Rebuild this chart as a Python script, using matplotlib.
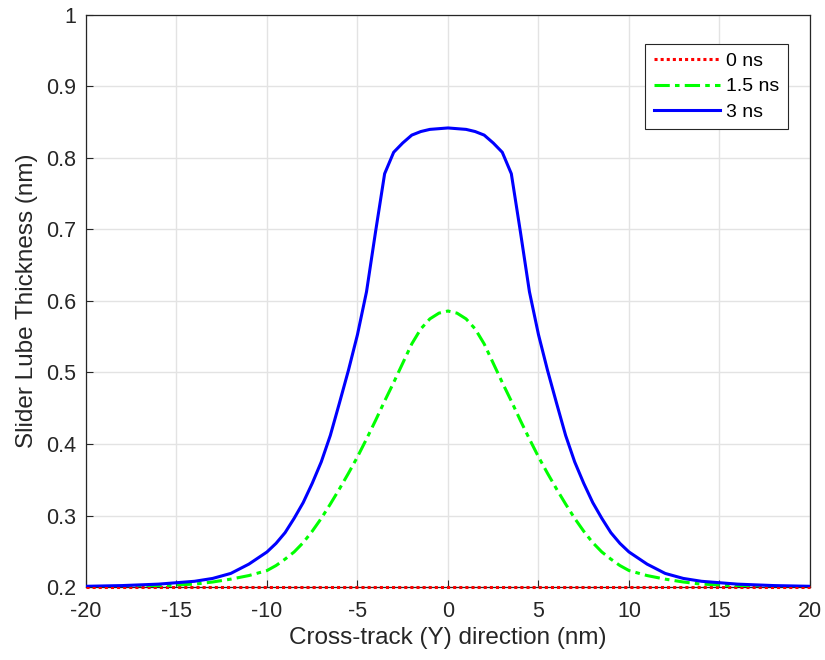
import matplotlib
matplotlib.use('Agg')
import matplotlib.pyplot as plt

plt.rcParams['font.family'] = ['Liberation Sans', 'DejaVu Sans']
plt.rcParams['axes.unicode_minus'] = False

# cross-track position (nm)
y_pos = [-20, -19, -18, -17, -16, -15, -14, -13, -12, -11,
         -10, -9.5, -9, -8.5, -8, -7.5, -7, -6.5, -6, -5.5,
         -5, -4.5, -4, -3.5, -3, -2.5, -2, -1.5, -1, -0.5,
         0, 0.5, 1, 1.5, 2, 2.5, 3, 3.5, 4, 4.5,
         5, 5.5, 6, 6.5, 7, 7.5, 8, 8.5, 9, 9.5,
         10, 11, 12, 13, 14, 15, 16, 17, 18, 19, 20]

# lube thickness (nm) at each time
lube_0ns = [0.2] * len(y_pos)
lube_15ns = [0.200, 0.200, 0.200, 0.200, 0.201, 0.203, 0.204, 0.207, 0.211, 0.216,
             0.223, 0.230, 0.239, 0.249, 0.262, 0.278, 0.296, 0.316, 0.337, 0.359,
             0.382, 0.407, 0.433, 0.460, 0.486, 0.513, 0.540, 0.561, 0.575, 0.583,
             0.586, 0.583, 0.575, 0.561, 0.540, 0.513, 0.486, 0.460, 0.433, 0.407,
             0.382, 0.359, 0.337, 0.316, 0.296, 0.278, 0.262, 0.249, 0.239, 0.230,
             0.223, 0.216, 0.211, 0.207, 0.204, 0.203, 0.201, 0.200, 0.200, 0.200, 0.200]
lube_3ns = [0.201, 0.2015, 0.202, 0.203, 0.204, 0.206, 0.208, 0.212, 0.219, 0.232,
            0.249, 0.261, 0.276, 0.296, 0.318, 0.345, 0.375, 0.412, 0.457, 0.503,
            0.553, 0.613, 0.697, 0.778, 0.808, 0.821, 0.832, 0.837, 0.840, 0.841,
            0.842, 0.841, 0.840, 0.837, 0.832, 0.821, 0.808, 0.778, 0.697, 0.613,
            0.553, 0.503, 0.457, 0.412, 0.375, 0.345, 0.318, 0.296, 0.276, 0.261,
            0.249, 0.232, 0.219, 0.212, 0.208, 0.206, 0.204, 0.203, 0.202, 0.2015, 0.201]

fig = plt.figure(figsize=(8.25, 6.6), dpi=100)
ax = fig.add_axes([0.1042, 0.1106, 0.8776, 0.8667])

ax.plot(y_pos, lube_0ns, color='#ff0000', linestyle=(0, (1, 1)), linewidth=2.2,
        label='0 ns', clip_on=False, zorder=3)
ax.plot(y_pos, lube_15ns, color='#00ff00', linestyle=(0, (5, 1.7, 1.5, 1.7)), linewidth=2.2,
        label='1.5 ns', zorder=3)
ax.plot(y_pos, lube_3ns, color='#0000ff', linestyle='-', linewidth=2.2,
        label='3 ns', zorder=3)

ax.set_xlim(-20, 20)
ax.set_ylim(0.2, 1)
ax.set_xticks(range(-20, 21, 5))
ax.set_yticks([0.2, 0.3, 0.4, 0.5, 0.6, 0.7, 0.8, 0.9, 1.0])
ax.set_yticklabels(['0.2', '0.3', '0.4', '0.5', '0.6', '0.7', '0.8', '0.9', '1'])

ax.grid(True, color='#e3e3e3', linewidth=1.0)
ax.set_axisbelow(True)
ax.tick_params(direction='in', length=5, width=0.8, colors='#262626', labelsize=15.5,
               top=False, right=False)
ax.tick_params(axis='x', pad=10)
ax.tick_params(axis='y', pad=7)
for s in ax.spines.values():
    s.set_color('#262626')
    s.set_linewidth(0.9)

ax.set_xlabel('Cross-track (Y) direction (nm)', fontsize=17.5, color='#262626', labelpad=4)
ax.set_ylabel('Slider Lube Thickness (nm)', fontsize=17.5, color='#262626', labelpad=6)

leg = ax.legend(loc='upper right', bbox_to_anchor=(0.9696, 0.95), borderaxespad=0,
                fontsize=14, fancybox=False, framealpha=1, edgecolor='#262626',
                handlelength=3.4, handletextpad=0.3, labelspacing=0.4, borderpad=0.45)
leg.get_frame().set_linewidth(0.8)

fig.savefig('out.png', dpi=100)
